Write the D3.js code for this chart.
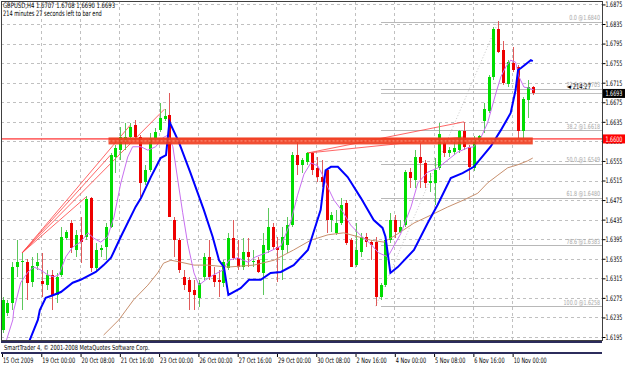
<!DOCTYPE html>
<html>
<head>
<meta charset="utf-8">
<script src="https://cdnjs.cloudflare.com/ajax/libs/d3/7.8.5/d3.min.js"></script>
<style>
  body { margin: 0; background: #fff; }
  svg { display: block; }
  text { font-family: "DejaVu Sans Condensed", "Liberation Sans", sans-serif; }
</style>
</head>
<body>
<svg id="chart" width="625" height="365"></svg>
<script>
// GBPUSD H4 bars, one per 4 hours: [open, high, low, close]
var bars = [
  [1.6209,1.6277,1.6203,1.6271],[1.6244,1.6271,1.6238,1.6265],[1.6265,1.6348,1.6250,1.6338],[1.6338,1.6393,1.6318,1.6348],
  [1.6348,1.6367,1.6250,1.6350],[1.6348,1.6355,1.6271,1.6306],[1.6308,1.6359,1.6297,1.6340],[1.6340,1.6367,1.6332,1.6348],
  [1.6310,1.6367,1.6277,1.6303],[1.6301,1.6332,1.6291,1.6322],[1.6322,1.6332,1.6250,1.6281],[1.6281,1.6326,1.6265,1.6318],
  [1.6322,1.6420,1.6318,1.6400],[1.6397,1.6414,1.6393,1.6410],[1.6428,1.6434,1.6367,1.6377],[1.6373,1.6414,1.6359,1.6404],
  [1.6404,1.6440,1.6346,1.6389],[1.6400,1.6483,1.6393,1.6477],[1.6479,1.6481,1.6328,1.6336],[1.6336,1.6387,1.6328,1.6373],
  [1.6373,1.6383,1.6359,1.6377],[1.6379,1.6428,1.6352,1.6420],[1.6420,1.6571,1.6418,1.6567],[1.6563,1.6588,1.6530,1.6582],
  [1.6577,1.6624,1.6557,1.6604],[1.6594,1.6633,1.6577,1.6604],[1.6604,1.6633,1.6598,1.6624],[1.6628,1.6639,1.6598,1.6604],
  [1.6604,1.6608,1.6481,1.6510],[1.6512,1.6547,1.6506,1.6536],[1.6536,1.6612,1.6532,1.6602],[1.6602,1.6622,1.6598,1.6614],
  [1.6618,1.6674,1.6614,1.6643],[1.6641,1.6661,1.6637,1.6647],[1.6649,1.6694,1.6440,1.6440],[1.6434,1.6440,1.6359,1.6393],
  [1.6393,1.6397,1.6326,1.6332],[1.6318,1.6332,1.6291,1.6301],[1.6312,1.6318,1.6250,1.6287],[1.6291,1.6312,1.6250,1.6281],
  [1.6275,1.6312,1.6256,1.6306],[1.6318,1.6367,1.6312,1.6359],[1.6359,1.6393,1.6312,1.6318],[1.6322,1.6338,1.6297,1.6308],
  [1.6312,1.6332,1.6277,1.6308],[1.6306,1.6352,1.6297,1.6348],[1.6336,1.6408,1.6332,1.6397],[1.6397,1.6434,1.6352,1.6357],
  [1.6357,1.6393,1.6332,1.6338],[1.6338,1.6397,1.6332,1.6369],[1.6369,1.6397,1.6338,1.6359],[1.6348,1.6373,1.6338,1.6350],
  [1.6352,1.6359,1.6326,1.6328],[1.6326,1.6408,1.6281,1.6383],[1.6373,1.6459,1.6367,1.6420],[1.6420,1.6428,1.6373,1.6379],
  [1.6379,1.6400,1.6308,1.6373],[1.6373,1.6420,1.6312,1.6400],[1.6383,1.6440,1.6367,1.6424],[1.6424,1.6573,1.6420,1.6567],
  [1.6567,1.6598,1.6526,1.6547],[1.6547,1.6561,1.6530,1.6557],[1.6553,1.6573,1.6547,1.6571],[1.6571,1.6573,1.6526,1.6536],
  [1.6541,1.6563,1.6512,1.6522],[1.6522,1.6557,1.6502,1.6512],[1.6536,1.6541,1.6408,1.6434],[1.6434,1.6451,1.6410,1.6444],
  [1.6408,1.6455,1.6404,1.6428],[1.6428,1.6479,1.6424,1.6465],[1.6469,1.6475,1.6383,1.6387],[1.6393,1.6397,1.6338,1.6338],
  [1.6342,1.6428,1.6338,1.6373],[1.6369,1.6408,1.6359,1.6400],[1.6400,1.6408,1.6379,1.6389],[1.6389,1.6393,1.6352,1.6383],
  [1.6389,1.6400,1.6258,1.6277],[1.6277,1.6306,1.6271,1.6301],[1.6301,1.6400,1.6297,1.6393],[1.6393,1.6449,1.6387,1.6434],
  [1.6434,1.6444,1.6397,1.6410],[1.6410,1.6434,1.6408,1.6420],[1.6424,1.6536,1.6420,1.6532],[1.6532,1.6541,1.6500,1.6520],
  [1.6516,1.6577,1.6500,1.6563],[1.6563,1.6592,1.6500,1.6551],[1.6551,1.6557,1.6500,1.6510],[1.6510,1.6530,1.6492,1.6514],
  [1.6510,1.6561,1.6465,1.6536],[1.6541,1.6633,1.6536,1.6610],[1.6592,1.6602,1.6563,1.6571],[1.6571,1.6584,1.6563,1.6577],
  [1.6573,1.6602,1.6567,1.6582],[1.6577,1.6618,1.6571,1.6616],[1.6616,1.6635,1.6577,1.6584],[1.6584,1.6588,1.6516,1.6543],
  [1.6541,1.6606,1.6534,1.6598],[1.6598,1.6608,1.6594,1.6606],[1.6637,1.6674,1.6612,1.6661],[1.6657,1.6731,1.6653,1.6727],
  [1.6727,1.6829,1.6721,1.6825],[1.6825,1.6841,1.6776,1.6778],[1.6782,1.6800,1.6710,1.6714],[1.6712,1.6761,1.6706,1.6757],
  [1.6755,1.6788,1.6737,1.6741],[1.6747,1.6751,1.6602,1.6616],[1.6616,1.6686,1.6602,1.6682],[1.6680,1.6721,1.6643,1.6706],
  [1.6707,1.6708,1.6690,1.6693]
];

var priceTicks = [1.6875,1.6835,1.6795,1.6755,1.6715,1.6675,1.6635,1.6595,1.6555,1.6515,
                  1.6475,1.6435,1.6395,1.6355,1.6315,1.6275,1.6235,1.6195];
var timeTickIdx = [0,8,16,24,32,40,48,56,64,72,80,88,96,104];
var timeTickText = ["15 Oct 2009","19 Oct 00:00","20 Oct 08:00","21 Oct 16:00","23 Oct 00:00","26 Oct 00:00",
                    "27 Oct 16:00","29 Oct 00:00","30 Oct 08:00","2 Nov 16:00","4 Nov 00:00","5 Nov 08:00",
                    "6 Nov 16:00","10 Nov 00:00"];

// indicator lines: [bar, price]
var blueLine = [[5.4,1.6185],[7.2,1.6230],[7.6,1.6250],[8.8,1.6275],[10.4,1.6281],[11.9,1.6287],[14.3,1.6306],
  [15.9,1.6312],[19,1.6328],[20.6,1.6342],[22.1,1.6357],[24.1,1.6400],[27.1,1.6461],[28.2,1.6479],[30.2,1.6522],
  [32.2,1.6561],[33.3,1.6567],[34,1.6635],[35.9,1.6594],[38.3,1.6530],[41,1.6455],[42.8,1.6400],[44.1,1.6352],
  [45.1,1.6338],[46,1.6281],[48.5,1.6295],[50.2,1.6312],[52.6,1.6312],[54.6,1.6326],[56.7,1.6328],[59.3,1.6342],
  [62.2,1.6373],[64.8,1.6455],[65.8,1.6536],[66.9,1.6543],[68.3,1.6543],[70.3,1.6522],[73,1.6479],[75.6,1.6434],
  [77.4,1.6418],[78,1.6400],[79,1.6326],[80.5,1.6338],[83.8,1.6373],[86.6,1.6428],[88.6,1.6465],[91.3,1.6520],
  [93.7,1.6530],[96,1.6543],[99.4,1.6584],[101.5,1.6618],[103.5,1.6653],[104.5,1.6700],[105,1.6741],[105.6,1.6745],
  [107.6,1.6761],[108,1.6759]];
var violetLine = [[0.7,1.6185],[2.1,1.6230],[2.3,1.6250],[3.7,1.6306],[5.2,1.6328],[6.4,1.6338],[7.8,1.6332],
  [9.2,1.6322],[10.4,1.6318],[11.5,1.6322],[12.9,1.6359],[14.3,1.6379],[15.9,1.6389],[17.4,1.6408],[18.6,1.6397],
  [20,1.6389],[21.4,1.6400],[22.7,1.6440],[24.1,1.6510],[25.5,1.6563],[26.5,1.6584],[28.2,1.6584],[29.6,1.6577],
  [31.2,1.6584],[32.6,1.6602],[33.7,1.6608],[34.7,1.6584],[35.7,1.6516],[36.7,1.6449],[37.7,1.6387],[39,1.6326],
  [40,1.6301],[41.4,1.6312],[43,1.6322],[44.9,1.6332],[46.1,1.6352],[47.9,1.6357],[50,1.6348],[51.6,1.6359],
  [54.2,1.6369],[56.7,1.6381],[58.7,1.6430],[60.1,1.6485],[61.4,1.6528],[62.8,1.6551],[64.2,1.6545],[65.2,1.6526],
  [66.3,1.6500],[67.5,1.6475],[69.3,1.6451],[70.9,1.6424],[73,1.6402],[75,1.6385],[76.6,1.6367],[78.5,1.6359],
  [79.7,1.6381],[81.1,1.6406],[83.2,1.6461],[84.6,1.6510],[86.6,1.6532],[88.7,1.6541],[90.7,1.6557],[92.7,1.6573],
  [94.8,1.6582],[96,1.6584],[97.4,1.6602],[98.8,1.6633],[100.5,1.6694],[101.5,1.6727],[102.5,1.6747],[103.5,1.6761],
  [104.5,1.6757],[105.2,1.6727],[106.2,1.6706],[107.2,1.6704],[108.2,1.6700]];
var brownLine = [[20.6,1.6199],[23.7,1.6230],[26.7,1.6271],[29.6,1.6301],[31.6,1.6326],[32.8,1.6346],[34.3,1.6352],
  [36.3,1.6348],[39,1.6342],[41.8,1.6342],[45.9,1.6338],[51.2,1.6342],[55.3,1.6352],[59.3,1.6373],[62.8,1.6393],
  [66.3,1.6404],[69.5,1.6408],[72.4,1.6400],[75,1.6393],[77.7,1.6389],[80.5,1.6406],[83.8,1.6428],[87.2,1.6444],
  [90.7,1.6461],[93.9,1.6475],[96.8,1.6489],[98.8,1.6510],[100.9,1.6526],[102.9,1.6541],[104.9,1.6547],
  [106.9,1.6555],[108,1.6561]];

// fibonacci retracement 1.6258 -> 1.6840
var fibText = ["0.0 @1.6840","23.6 @1.6703","38.2 @1.6618","50.0 @1.6549","61.8 @1.6480","78.6 @1.6383","100.0 @1.6258"];
var fibPrice = [1.6840,1.6703,1.6618,1.6549,1.6480,1.6383,1.6258];
var fibStart = 77;

// hand drawn trendlines
var trendLines = [
  [[4,1.6367],[17,1.6481]],
  [[4,1.6367],[22,1.6567]],
  [[4,1.6367],[26,1.6628]],
  [[4,1.6367],[33,1.6661]],
  [[62,1.6571],[94,1.6635]],
  [[62,1.6571],[94,1.6604]]
];
var levelPrice = 1.6600;
var zoneFrom = 22, zoneTo = 108;
var lastPrice = 1.6693;

var W = 625, H = 365;
var pL = 1, pR = 602, pT = 1, pB = 340;

var svg = d3.select("#chart");

var x = d3.scaleLinear().domain([0, 108]).range([2.5, 2.5 + 108 * 4.91]);
var y = d3.scaleLinear().domain([1.6835, 1.6195]).range([24, 337]);

// squeeze text to the narrow width of the terminal font
function fit(sel, perChar) {
  sel.attr("lengthAdjust", "spacingAndGlyphs")
     .attr("textLength", function() { return this.textContent.length * perChar; });
}

svg.append("defs").append("clipPath").attr("id", "plotclip")
  .append("rect").attr("x", pL).attr("y", pT).attr("width", pR - pL).attr("height", pB - pT);

// grid
var grid = svg.append("g").attr("stroke", "#c0c0c0").attr("stroke-dasharray", "3,3").attr("shape-rendering", "crispEdges");
grid.selectAll("line.h").data(priceTicks).enter().append("line")
  .attr("x1", pL).attr("x2", pR)
  .attr("y1", function(d) { return Math.round(y(d)) + 0.5; })
  .attr("y2", function(d) { return Math.round(y(d)) + 0.5; });
grid.selectAll("line.v").data(timeTickIdx.slice(1)).enter().append("line")
  .attr("y1", pT).attr("y2", pB)
  .attr("x1", function(d) { return Math.round(x(d)) - 0.5; })
  .attr("x2", function(d) { return Math.round(x(d)) - 0.5; });

var plot = svg.append("g").attr("clip-path", "url(#plotclip)");

// fibonacci levels
plot.selectAll("line.fib").data(fibPrice).enter().append("line")
  .attr("x1", x(fibStart)).attr("x2", pR)
  .attr("y1", function(d) { return Math.round(y(d)) + 0.5; })
  .attr("y2", function(d) { return Math.round(y(d)) + 0.5; })
  .attr("stroke", "#b8b8b8").attr("shape-rendering", "crispEdges");
plot.append("line")
  .attr("x1", x(76)).attr("y1", y(1.6258)).attr("x2", x(101)).attr("y2", y(1.6840))
  .attr("stroke", "#c8c8c8").attr("stroke-dasharray", "1,2");
plot.selectAll("text.fib").data(fibPrice).enter().append("text")
  .attr("x", 600).attr("y", function(d) { return y(d) - 1.5; })
  .attr("text-anchor", "end").attr("font-size", "7px").attr("fill", "#a8a8a8")
  .text(function(d, i) { return fibText[i]; })
  .call(fit, 2.8);

// bid line
plot.append("line").attr("x1", x(fibStart)).attr("x2", pR)
  .attr("y1", Math.round(y(lastPrice)) + 0.5).attr("y2", Math.round(y(lastPrice)) + 0.5)
  .attr("stroke", "#c0c0c0").attr("shape-rendering", "crispEdges");

// horizontal level
plot.append("line").attr("x1", pL).attr("x2", pR)
  .attr("y1", y(levelPrice)).attr("y2", y(levelPrice))
  .attr("stroke", "#ff0000").attr("stroke-width", 1);

// trendlines
plot.selectAll("line.tl").data(trendLines).enter().append("line")
  .attr("x1", function(d) { return x(d[0][0]); }).attr("y1", function(d) { return y(d[0][1]); })
  .attr("x2", function(d) { return x(d[1][0]); }).attr("y2", function(d) { return y(d[1][1]); })
  .attr("stroke", "#ff4040").attr("stroke-width", 0.8);

// candles
var up = function(d) { return d[3] >= d[0]; };
var candles = plot.selectAll("g.bar").data(bars).enter().append("g")
  .attr("shape-rendering", "crispEdges");
candles.append("line")
  .attr("x1", function(d, i) { return Math.round(x(i)) + 0.5; })
  .attr("x2", function(d, i) { return Math.round(x(i)) + 0.5; })
  .attr("y1", function(d) { return y(d[1]); })
  .attr("y2", function(d) { return y(d[2]); })
  .attr("stroke", function(d) { return up(d) ? "#5cc85c" : "#e05a5a"; });
candles.append("rect")
  .attr("x", function(d, i) { return Math.round(x(i)) - 1; })
  .attr("width", 3)
  .attr("y", function(d) { return y(Math.max(d[0], d[3])); })
  .attr("height", function(d) { return Math.max(1, Math.abs(y(d[0]) - y(d[3]))); })
  .attr("fill", function(d) { return up(d) ? "#00dd00" : "#ee0000"; });

// moving averages
var line = d3.line().x(function(d) { return x(d[0]); }).y(function(d) { return y(d[1]); });
plot.append("path").datum(brownLine).attr("d", line).attr("fill", "none").attr("stroke", "#c8906e").attr("stroke-width", 1);
plot.append("path").datum(violetLine).attr("d", line).attr("fill", "none").attr("stroke", "#c870f0").attr("stroke-width", 1);
plot.append("path").datum(blueLine).attr("d", line).attr("fill", "none").attr("stroke", "#0000ff").attr("stroke-width", 2);

// support/resistance zone
plot.append("rect")
  .attr("x", x(zoneFrom) - 2).attr("width", x(zoneTo) - x(zoneFrom) + 2)
  .attr("y", y(levelPrice) - 1.5).attr("height", 7)
  .attr("fill", "#f03c1e").attr("opacity", 0.9);
plot.append("line")
  .attr("x1", x(zoneFrom) - 2).attr("x2", x(zoneTo))
  .attr("y1", y(levelPrice) + 2).attr("y2", y(levelPrice) + 2)
  .attr("stroke", "#ff9a80").attr("stroke-dasharray", "2,2");

// frame
svg.append("rect").attr("x", pL + 0.5).attr("y", pT + 0.5).attr("width", pR - pL).attr("height", pB - pT)
  .attr("fill", "none").attr("stroke", "#404040").attr("shape-rendering", "crispEdges");

// price axis
var yAxis = d3.axisRight(y).tickValues(priceTicks).tickFormat(d3.format(".4f")).tickSize(3).tickPadding(0);
var ya = svg.append("g").attr("transform", "translate(" + (pR + 0.5) + ",0)").call(yAxis);
ya.select(".domain").remove();
ya.selectAll("line").attr("stroke", "#000");
ya.selectAll("text").attr("font-size", "7.5px").attr("fill", "#000").call(fit, 2.8);

// price boxes
function priceBox(p, fill) {
  var g = svg.append("g");
  g.append("rect").attr("x", pR + 1).attr("y", y(p) - 4.5).attr("width", W - pR - 1).attr("height", 9).attr("fill", fill);
  g.append("text").attr("x", pR + 3.5).attr("y", y(p) + 3).attr("font-size", "7.5px").attr("fill", "#fff")
    .text(p.toFixed(4)).call(fit, 2.8);
}
priceBox(lastPrice, "#000");
priceBox(levelPrice, "#ff0000");

// time axis
var xAxis = d3.axisBottom(x).tickValues(timeTickIdx).tickSize(3).tickPadding(1)
  .tickFormat(function(d, i) { return timeTickText[i]; });
var xa = svg.append("g").attr("transform", "translate(-0.5," + (pB + 14) + ")").call(xAxis);
xa.select(".domain").remove();
xa.selectAll("line").attr("stroke", "#000");
xa.selectAll("text").attr("font-size", "7.5px").attr("fill", "#000").attr("text-anchor", "start").attr("dx", "0.5")
  .call(fit, 2.75);

// lower indicator strip
svg.append("rect").attr("x", pL).attr("y", pB + 1).attr("width", pR - pL).attr("height", 2).attr("fill", "#2c2c5c");
svg.append("rect").attr("x", pL).attr("y", pB + 12).attr("width", pR - pL).attr("height", 2).attr("fill", "#2c2c5c");
svg.append("text").attr("x", 4).attr("y", pB + 10).attr("font-size", "7px").attr("fill", "#000")
  .text("SmartTrader 4, \u00a9 2001-2008 MetaQuotes Software Corp.").call(fit, 2.8);

// header
svg.append("text").attr("x", 3).attr("y", 8).attr("font-size", "7.5px").attr("fill", "#000")
  .text("GBPUSD,H4  1.6707 1.6708 1.6690 1.6693").call(fit, 2.95);
svg.append("text").attr("x", 3).attr("y", 16).attr("font-size", "7.5px").attr("fill", "#000")
  .text("214 minutes 27 seconds left to bar end").call(fit, 2.6);
svg.append("text").attr("x", 567).attr("y", y(lastPrice) - 4).attr("font-size", "7.5px").attr("fill", "#000")
  .text("\u25c4 214:27").call(fit, 3);
</script>
</body>
</html>
